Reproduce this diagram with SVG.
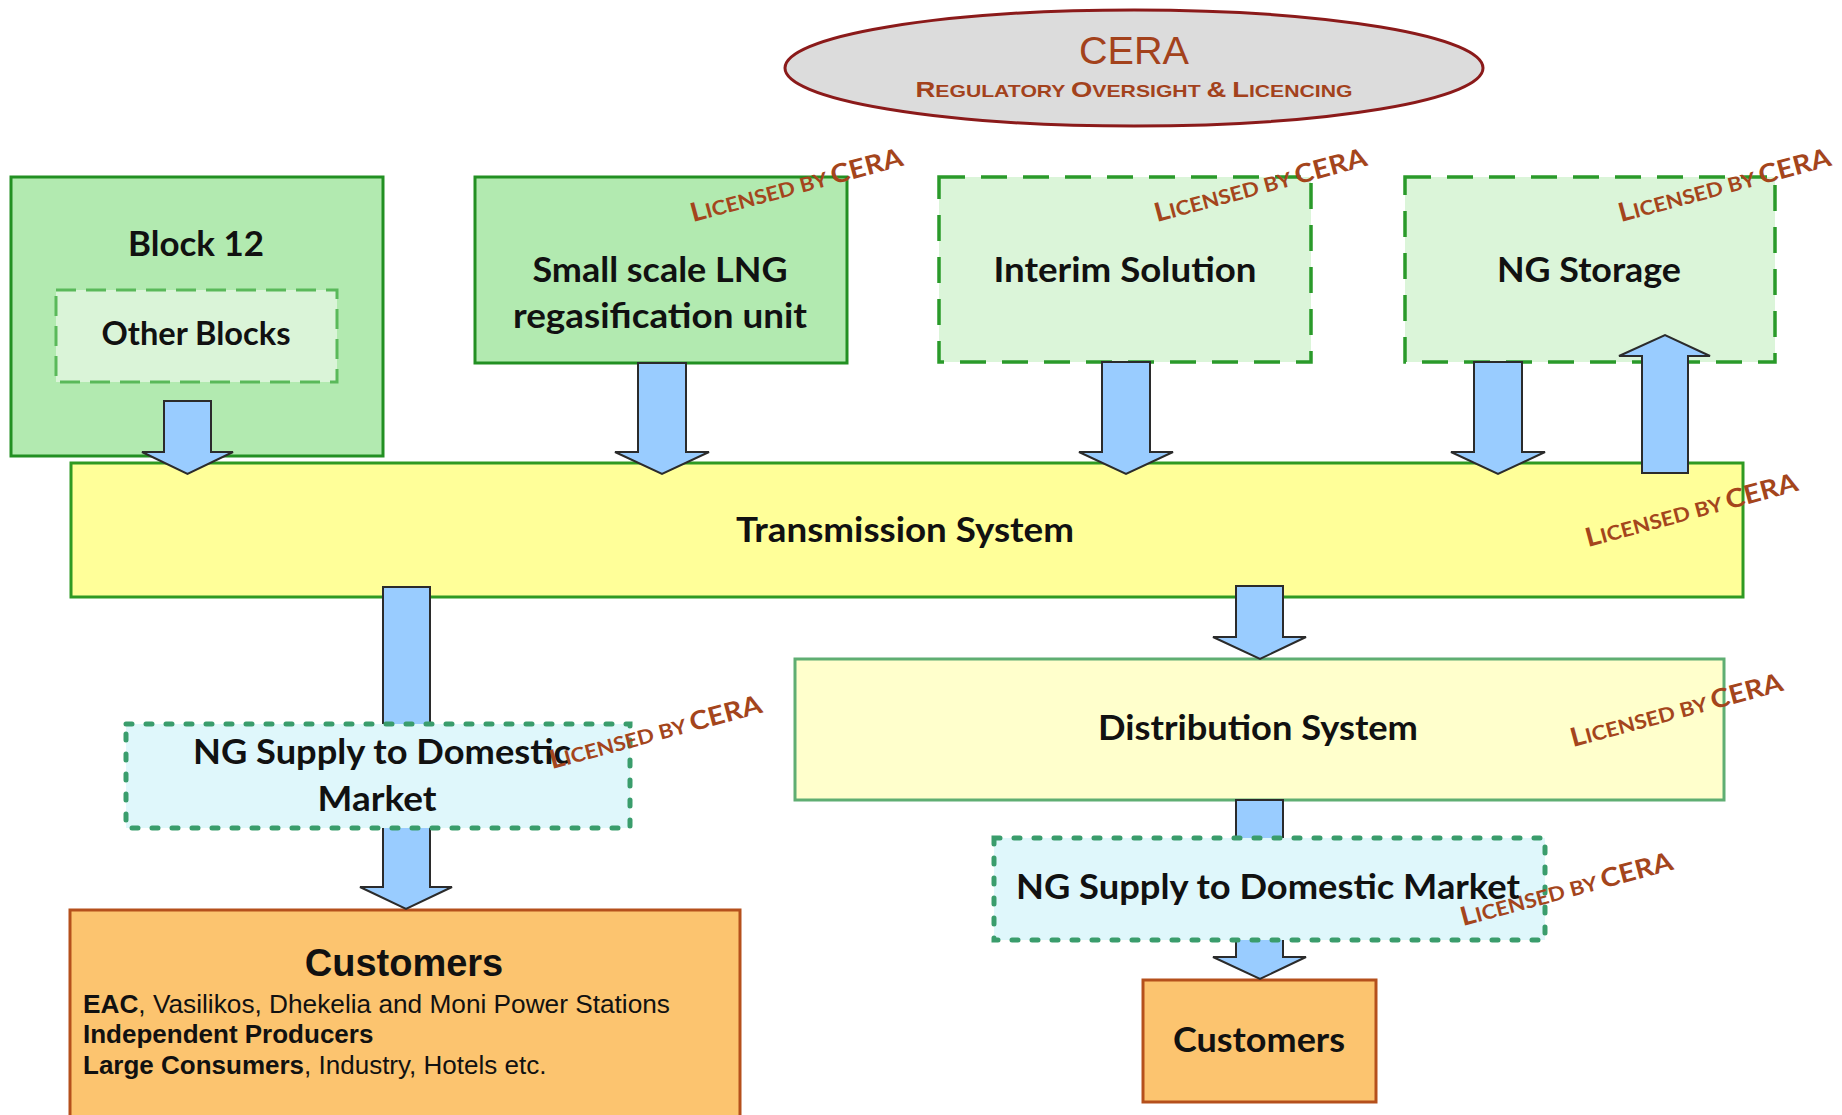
<svg xmlns="http://www.w3.org/2000/svg" width="1842" height="1115" viewBox="0 0 1842 1115">
<style>
.lbl{font-family:Lato,"Open Sans","DejaVu Sans",sans-serif;font-weight:700;fill:#111;text-anchor:middle}
.solid{fill:#b2eab0;stroke:#229022;stroke-width:3}
.dash{fill:#dbf5d9;stroke:#2a9a2a;stroke-width:3.5;stroke-dasharray:26 16}
.dot{fill:#dff7fb;stroke:#3a9d6c;stroke-width:5;stroke-dasharray:6 14;stroke-linecap:round}
.arrow{fill:#99ccff;stroke:#2b2b2b;stroke-width:2;stroke-linejoin:miter}
.lic{font-family:Lato,"Open Sans",sans-serif;font-weight:700;fill:#a4451c;font-size:20px}
.lic .b{font-size:26px}
.cust{fill:#fcc46f;stroke:#b5501c;stroke-width:3}
.arial{font-family:"Liberation Sans",Arial,sans-serif;fill:#111}
</style>
<rect width="1842" height="1115" fill="#ffffff"/>

<g id="cera">
<ellipse cx="1134" cy="68" rx="349" ry="58" fill="#dcdcdc" stroke="#8b1a1a" stroke-width="3"/>
<text x="1134" y="64" font-family="Liberation Sans,Arial,sans-serif" font-size="38" fill="#a3421c" text-anchor="middle" textLength="110" lengthAdjust="spacingAndGlyphs">CERA</text>
<text x="1134" y="97" font-family="Liberation Sans,Arial,sans-serif" font-weight="bold" font-size="17" fill="#a3421c" text-anchor="middle" textLength="437" lengthAdjust="spacingAndGlyphs"><tspan font-size="22">R</tspan>EGULATORY <tspan font-size="22">O</tspan>VERSIGHT <tspan font-size="22">&amp;</tspan> <tspan font-size="22">L</tspan>ICENCING</text>
</g>

<g id="block12">
<rect class="solid" x="11" y="177" width="372" height="279"/>
<text class="lbl" x="196" y="256" font-size="35" textLength="136" lengthAdjust="spacingAndGlyphs">Block 12</text>
</g>
<g id="other-blocks">
<rect x="56" y="290" width="281" height="92" fill="#daf4d8" stroke="#5ab95a" stroke-width="3" stroke-dasharray="20 10"/>
<text class="lbl" x="196" y="345" font-size="33" textLength="189" lengthAdjust="spacingAndGlyphs">Other Blocks</text>
</g>

<g id="lng">
<rect class="solid" x="475" y="177" width="372" height="186"/>
<text class="lbl" x="660" y="282" font-size="35" textLength="255" lengthAdjust="spacingAndGlyphs">Small scale LNG</text>
<text class="lbl" x="660" y="328" font-size="35" textLength="294" lengthAdjust="spacingAndGlyphs">regasification unit</text>
</g>

<g id="interim">
<rect class="dash" x="939" y="177" width="372" height="185"/>
<text class="lbl" x="1125" y="282" font-size="35" textLength="263" lengthAdjust="spacingAndGlyphs">Interim Solution</text>
</g>

<g id="storage">
<rect class="dash" x="1405" y="177" width="370" height="185"/>
<text class="lbl" x="1589" y="282" font-size="35" textLength="184" lengthAdjust="spacingAndGlyphs">NG Storage</text>
</g>

<g id="transmission">
<rect x="71" y="463" width="1672" height="134" fill="#ffff99" stroke="#2f9a22" stroke-width="3"/>
<text class="lbl" x="905" y="542" font-size="35" textLength="338" lengthAdjust="spacingAndGlyphs">Transmission System</text>
</g>

<g id="distribution">
<rect x="795" y="659" width="929" height="141" fill="#ffffcc" stroke="#5fae72" stroke-width="3"/>
<text class="lbl" x="1258" y="740" font-size="35" textLength="320" lengthAdjust="spacingAndGlyphs">Distribution System</text>
</g>

<g id="customers-left">
<rect class="cust" x="70" y="910" width="670" height="220"/>
<text class="arial" x="404" y="976" font-size="38" font-weight="bold" text-anchor="middle">Customers</text>
<text class="arial" x="83" y="1013" font-size="26" textLength="587" lengthAdjust="spacingAndGlyphs"><tspan font-weight="bold">EAC</tspan>, Vasilikos, Dhekelia and Moni Power Stations</text>
<text class="arial" x="83" y="1043" font-size="26" font-weight="bold">Independent Producers</text>
<text class="arial" x="83" y="1074" font-size="26"><tspan font-weight="bold">Large Consumers</tspan>, Industry, Hotels etc.</text>
</g>

<g id="customers-right">
<rect class="cust" x="1143" y="980" width="233" height="122"/>
<text class="lbl" x="1259" y="1052" font-size="35" textLength="172" lengthAdjust="spacingAndGlyphs">Customers</text>
</g>

<g id="connectors">
<polygon class="arrow" points="164,401 211,401 211,452 233,452 187.5,474 142,452 164,452"/>
<polygon class="arrow" points="638,363 686,363 686,452 709,452 662,474 615,452 638,452"/>
<polygon class="arrow" points="1102,362 1150,362 1150,452 1173,452 1126,474 1079,452 1102,452"/>
<polygon class="arrow" points="1474,362 1522,362 1522,452 1545,452 1498,474 1451,452 1474,452"/>
<polygon class="arrow" points="1642,473 1688,473 1688,356 1710,356 1665,335 1619,356 1642,356"/>
<polygon class="arrow" points="383,587 430,587 430,887 452,887 406,909 360,887 383,887"/>
<polygon class="arrow" points="1236,586 1283,586 1283,637 1306,637 1260,659 1213,637 1236,637"/>
<polygon class="arrow" points="1236,800 1283,800 1283,957 1306,957 1260,979 1213,957 1236,957"/>
</g>

<g id="supply-left">
<rect class="dot" x="126" y="724" width="504" height="104"/>
<text class="lbl" x="382" y="764" font-size="35" textLength="378" lengthAdjust="spacingAndGlyphs">NG Supply to Domestic</text>
<text class="lbl" x="377" y="811" font-size="35" textLength="119" lengthAdjust="spacingAndGlyphs">Market</text>
</g>

<g id="supply-right">
<rect class="dot" x="994" y="838" width="551" height="102"/>
<text class="lbl" x="1268" y="899" font-size="35" textLength="504" lengthAdjust="spacingAndGlyphs">NG Supply to Domestic Market</text>
</g>

<g id="licences">
<text class="lic" transform="translate(693,222) rotate(-15)" textLength="219" lengthAdjust="spacingAndGlyphs"><tspan class="b">L</tspan>ICENSED BY <tspan class="b">CERA</tspan></text>
<text class="lic" transform="translate(1157,222) rotate(-15)" textLength="219" lengthAdjust="spacingAndGlyphs"><tspan class="b">L</tspan>ICENSED BY <tspan class="b">CERA</tspan></text>
<text class="lic" transform="translate(1621,222) rotate(-15)" textLength="219" lengthAdjust="spacingAndGlyphs"><tspan class="b">L</tspan>ICENSED BY <tspan class="b">CERA</tspan></text>
<text class="lic" transform="translate(1588,547) rotate(-15)" textLength="219" lengthAdjust="spacingAndGlyphs"><tspan class="b">L</tspan>ICENSED BY <tspan class="b">CERA</tspan></text>
<text class="lic" transform="translate(1573,747) rotate(-15)" textLength="219" lengthAdjust="spacingAndGlyphs"><tspan class="b">L</tspan>ICENSED BY <tspan class="b">CERA</tspan></text>
<text class="lic" transform="translate(552,769) rotate(-15)" textLength="219" lengthAdjust="spacingAndGlyphs"><tspan class="b">L</tspan>ICENSED BY <tspan class="b">CERA</tspan></text>
<text class="lic" transform="translate(1463,926) rotate(-15)" textLength="219" lengthAdjust="spacingAndGlyphs"><tspan class="b">L</tspan>ICENSED BY <tspan class="b">CERA</tspan></text>
</g>
</svg>
